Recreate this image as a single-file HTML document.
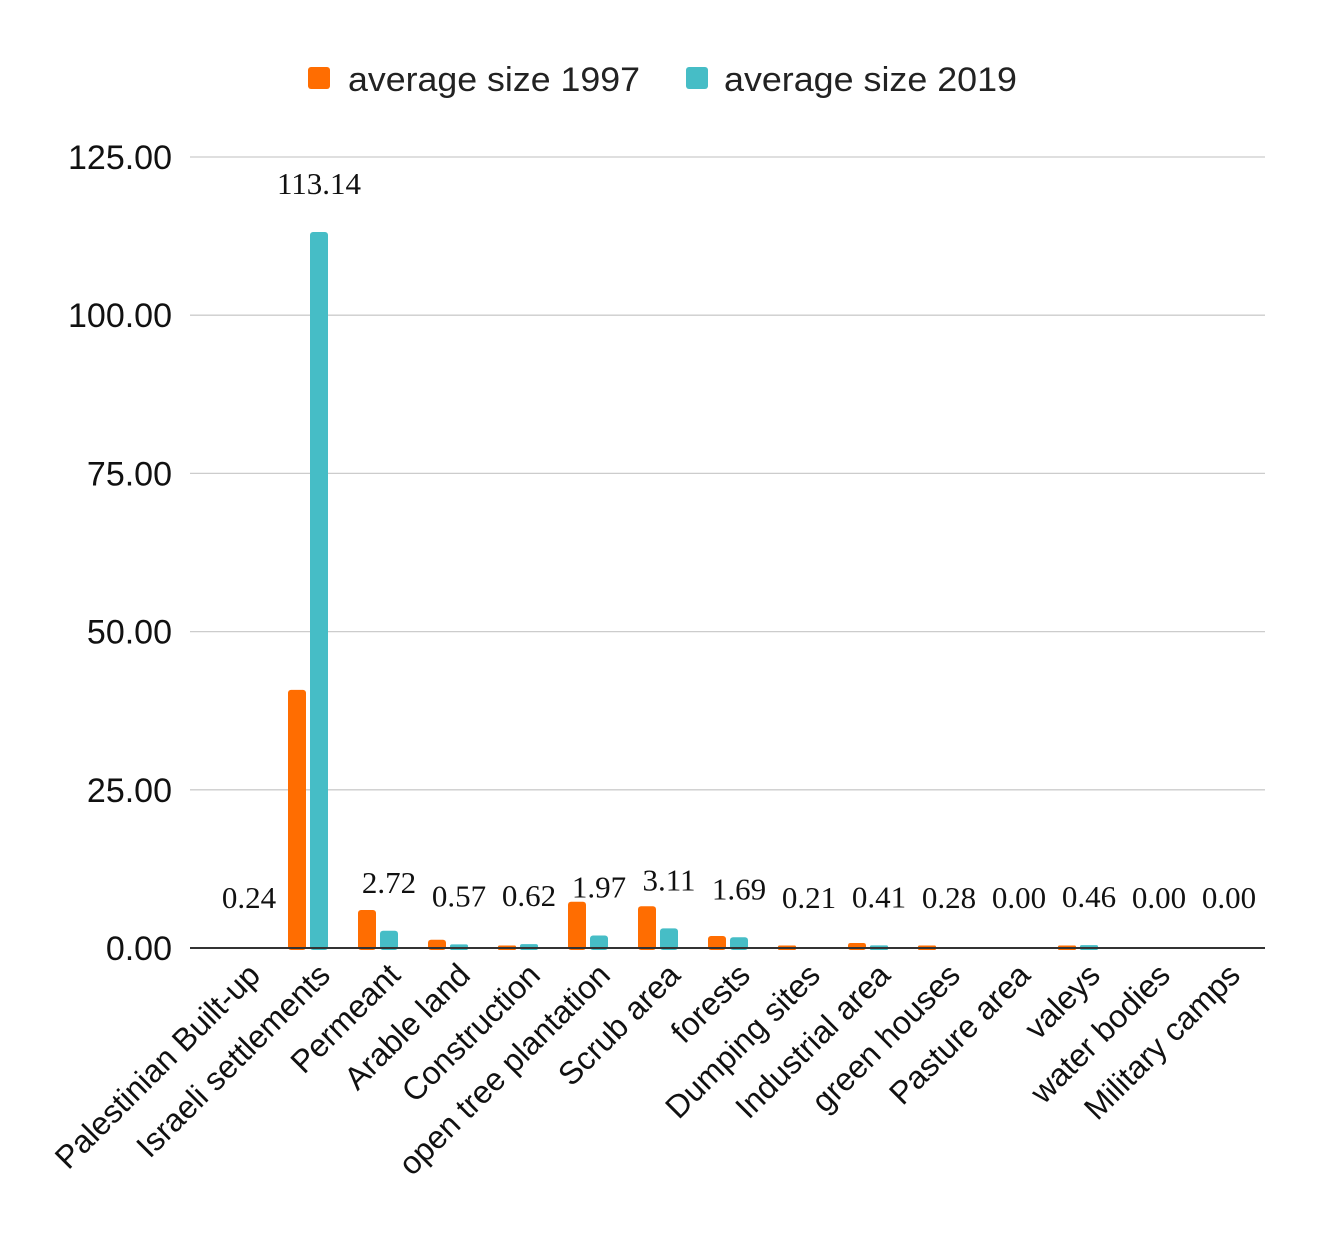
<!DOCTYPE html>
<html><head><meta charset="utf-8"><style>
html,body{margin:0;padding:0;background:#fff;}
svg{display:block;}
</style></head><body>
<svg id="chart" width="1326" height="1238" xmlns="http://www.w3.org/2000/svg">
<g>
<rect x="308" y="67" width="22" height="22" rx="3" fill="#ff6d01"/>
<text x="348" y="91" font-family="Liberation Sans, sans-serif" font-size="34" fill="#222" textLength="292" lengthAdjust="spacingAndGlyphs">average size 1997</text>
<rect x="686" y="67" width="22" height="22" rx="3" fill="#46bdc6"/>
<text x="724" y="91" font-family="Liberation Sans, sans-serif" font-size="34" fill="#222" textLength="293" lengthAdjust="spacingAndGlyphs">average size 2019</text>
</g>
<g id="grid"></g><g id="bars"></g><g id="labels"></g>
</svg>
<script>
const categories=["Palestinian Built-up","Israeli settlements","Permeant","Arable land","Construction","open tree plantation","Scrub area","forests","Dumping sites","Industrial area","green houses","Pasture area","valeys","water bodies","Military camps"];
const values1997=[0,40.8,6.0,1.3,0.4,7.3,6.6,1.9,0.4,0.8,0.4,0,0.4,0,0];
const values2019=[0.24,113.14,2.72,0.57,0.62,1.97,3.11,1.69,0.21,0.41,0.28,0,0.46,0,0];
const valueLabels=["0.24","113.14","2.72","0.57","0.62","1.97","3.11","1.69","0.21","0.41","0.28","0.00","0.46","0.00","0.00"];
const yTicks=[0,25,50,75,100,125];
const yTickLabels=["0.00","25.00","50.00","75.00","100.00","125.00"];
const NS="http://www.w3.org/2000/svg";
const y0=948,pxPer=791/125,x0=238,step=70,bw=18;
const Y=v=>y0-v*pxPer, X=i=>x0+step*i;
function mk(t,a,p){const e=document.createElementNS(NS,t);for(const k in a)e.setAttribute(k,a[k]);p.appendChild(e);return e;}
const grid=document.getElementById('grid'),bars=document.getElementById('bars'),labels=document.getElementById('labels');
yTicks.forEach((v,i)=>{
 if(v>0){const l=mk('line',{x1:190,x2:1265,y1:Y(v),y2:Y(v),stroke:'#cccccc','stroke-width':1.3},grid);
 
 }
 const t=mk('text',{x:172,y:Y(v)+12,'text-anchor':'end','font-family':'Liberation Sans, sans-serif','font-size':34,fill:'#111'},grid);
 t.textContent=yTickLabels[i];
 
 
});
categories.forEach((c,i)=>{
 const cx=X(i);
 [[values1997[i],'#ff6d01',cx-20],[values2019[i],'#46bdc6',cx+2]].forEach(([v,col,x],k)=>{
  if(v<=0.3)return;
  const h=v*pxPer;
  const r=mk('rect',{x:x,y:y0-h,width:bw,height:h+2,rx:Math.min(3,h/2),fill:col},bars);
  
  
 });
 const vl=mk('text',{x:cx+11,y:Math.min(Y(values2019[i]),946)-38,'text-anchor':'middle','font-family':'Liberation Serif, serif','font-size':31,fill:'#111'},labels);
 vl.textContent=valueLabels[i];
 
 
 const xl=mk('text',{x:0,y:0,'text-anchor':'end','font-family':'Liberation Sans, sans-serif','font-size':32,fill:'#111',transform:`translate(${cx+24},${977}) rotate(-45)`},labels);
 xl.textContent=c;
 
 
});
const ax=mk('line',{x1:190,x2:1265,y1:y0,y2:y0,stroke:'#333','stroke-width':2},labels);


</script>
</body></html>
